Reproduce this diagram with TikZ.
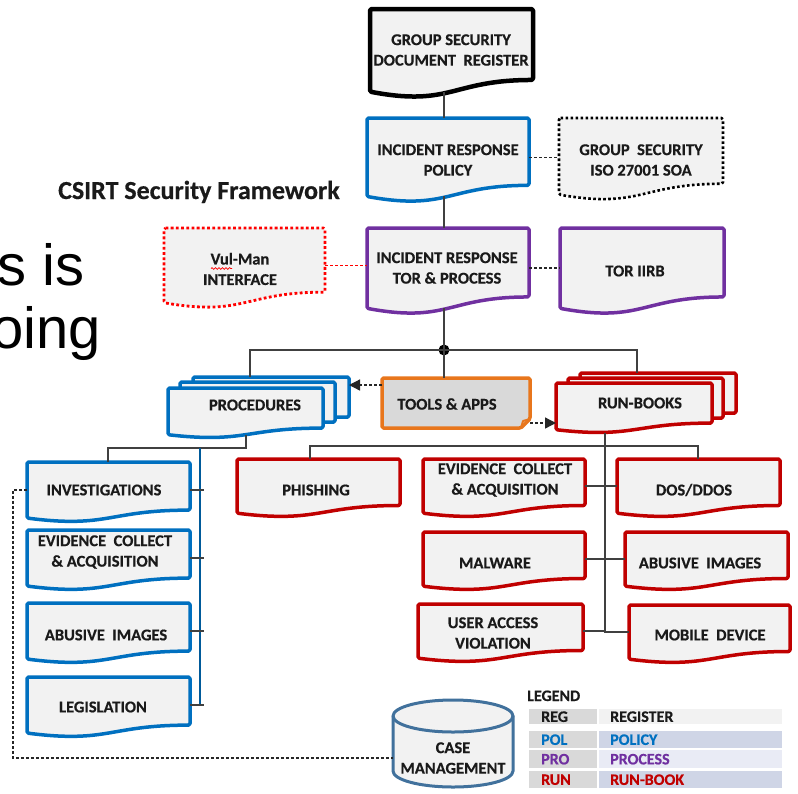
\documentclass[tikz,border=0pt]{standalone}
\usepackage{fontspec}
\setmainfont{Carlito}[BoldFeatures={FakeBold=0.5}]
\newfontfamily\arialfont{Liberation Sans}
\usetikzlibrary{arrows.meta,calc,decorations.pathmorphing}
\definecolor{cblue}{HTML}{0070C0}
\definecolor{cpurple}{HTML}{7030A0}
\definecolor{cred}{HTML}{C00000}
\definecolor{cvred}{HTML}{FF0000}
\definecolor{corange}{HTML}{E8761C}
\definecolor{cfill}{HTML}{F2F2F2}
\definecolor{cgray}{HTML}{D9D9D9}
\definecolor{cline}{HTML}{404040}
\definecolor{ctext}{HTML}{1A1A1A}
\definecolor{cyl}{HTML}{41719C}
\definecolor{lgblue}{HTML}{CFD5E6}
\definecolor{lgpale}{HTML}{E9EBF5}
\newcommand{\docbox}[6]{%
  \path[#1] (#3,#4) -- ({#3+#5},#4) -- ({#3+#5},{#4+0.802*#6}) .. controls ({#3+0.5*#5},{#4+0.802*#6}) and ({#3+0.5*#5},{#4+1.108*#6}) .. (#3,{#4+0.934*#6}) -- cycle;
  \node[boxanchor, minimum width={#5*1pt}, minimum height={0.933*#6*1pt}] (#2) at ({#3+0.5*#5},{#4+0.4665*#6}) {};}
\newcommand{\docnode}[9]{\docbox{#1}{#2}{#3}{#4}{#5}{#6}\node[doctext] (#2-label) at (#7,#8) {#9};}
\newcommand{\lgfont}{\bfseries\fontsize{16}{16}\selectfont}
\begin{document}
\begin{tikzpicture}[x=1pt,y=-1pt,
  docbase/.style={fill=cfill, line width=3.5pt, rounded corners=1.5pt, line join=round},
  regdoc/.style={docbase, draw=black, line width=4.5pt},
  poldoc/.style={docbase, draw=cblue},
  prodoc/.style={docbase, draw=cpurple},
  rundoc/.style={docbase, draw=cred},
  isodoc/.style={docbase, draw=black, line width=2.6pt, dash pattern=on 2.6pt off 2.4pt},
  vuldoc/.style={docbase, draw=cvred, line width=2.8pt, dash pattern=on 2.8pt off 2.4pt},
  boxanchor/.style={rectangle, draw=none, inner sep=0pt, outer sep=0pt},
  doctext/.style={font=\bfseries\fontsize{16.5}{20.5}\selectfont, text=ctext, align=center, inner sep=0pt},
  conn/.style={draw=cline, line width=1.8pt},
  tick/.style={draw=cline, line width=1.5pt},
  blueline/.style={draw=cblue!80!black, line width=1.2pt},
  dashconn/.style={draw=black!85, line width=1.3pt, dash pattern=on 3pt off 2pt},
  reddash/.style={draw=cvred, line width=1.3pt, dash pattern=on 3pt off 2pt},
  dasharrow/.style={dashconn, -{Triangle[length=11pt,width=11pt]}},
  dotnode/.style={circle, fill=black, inner sep=0pt, minimum size=11pt},
  lgA/.style={anchor=north west, fill=cgray, minimum height=#1, text width=62pt, inner xsep=3pt, inner ysep=0pt, align=left, font=\lgfont},
  lgB/.style={anchor=north west, minimum height=#1, text width=177pt, inner xsep=3pt, inner ysep=0pt, align=left, font=\lgfont}
]
\useasboundingbox (0,0) rectangle (798,793);
\fill[white] (0,0) rectangle (798,793);

% left big slide text and title
\node[font=\arialfont\fontsize{58}{60}\selectfont, anchor=base west, inner sep=0pt] (big1) at (-3,285) {s is};
\node[font=\arialfont\fontsize{58}{60}\selectfont, anchor=base west, inner sep=0pt] (big2) at (-9,348) {oing};
\node[font=\bfseries\fontsize{26}{30}\selectfont, text=ctext, anchor=base west, inner sep=0pt] (title) at (58,199) {CSIRT Security Framework};

% top chain
\docnode{regdoc}{reg}{370}{9}{163}{88.5}{451}{50}{GROUP SECURITY\\DOCUMENT\ \ REGISTER}
\docnode{poldoc}{pol}{367}{118}{162}{84}{448}{160}{INCIDENT RESPONSE\\POLICY}
\docnode{isodoc}{iso}{559}{118}{164}{82}{641}{160}{GROUP\ \ SECURITY\\ISO 27001 SOA}
\docnode{prodoc}{torp}{367}{228}{162}{86}{447}{268}{INCIDENT RESPONSE\\TOR \& PROCESS}
\docnode{vuldoc}{vul}{164}{228}{161}{80}{240}{269}{Vul-Man\\INTERFACE}
\docnode{prodoc}{tiirb}{560}{228}{164}{86}{635}{271}{TOR IIRB}
\draw[cvred, line width=0.7pt, decorate, decoration={snake, amplitude=0.9pt, segment length=3.5pt}] (211,268.5) -- (232,268.5);

% stacks
\docbox{poldoc}{proc3}{193}{377}{156}{50}
\docbox{poldoc}{proc2}{180}{382}{155}{50}
\docnode{poldoc}{proc}{168}{388}{155}{50}{255}{405}{PROCEDURES}
\docbox{rundoc}{rb3}{580}{373}{156}{50}
\docbox{rundoc}{rb2}{568}{378}{155}{50}
\docnode{rundoc}{rb}{556}{383}{156}{50}{640}{403}{RUN-BOOKS}

% tools
\path[fill=cgray, draw=corange, line width=3.5pt, rounded corners=1.5pt, line join=round] (382,378) -- (530,378) -- (530,419) -- (521,428) -- (382,428) -- cycle;
\draw[corange, line width=2pt, line join=round] (521,428) -- (523,421) -- (530,419);
\node[boxanchor, minimum width=148pt, minimum height=50pt] (tools) at (456,403) {};
\node[doctext] (tools-label) at (447,404) {TOOLS \& APPS};

% left procedure boxes
\docnode{poldoc}{inv}{27}{462}{163}{60}{104}{490}{INVESTIGATIONS}
\docnode{poldoc}{pevid}{27}{530}{163}{60}{105}{552}{EVIDENCE\ \ COLLECT\\\& ACQUISITION}
\docnode{poldoc}{pabu}{27}{603}{163}{60}{106}{635}{ABUSIVE\ \ IMAGES}
\docnode{poldoc}{leg}{27}{677}{163}{60}{103}{707}{LEGISLATION}

% run-book boxes
\docnode{rundoc}{phish}{237}{459}{163}{58}{316}{490}{PHISHING}
\docnode{rundoc}{revid}{423}{459}{162}{58}{505}{480}{EVIDENCE\ \ COLLECT\\\& ACQUISITION}
\docnode{rundoc}{dos}{617}{459}{163}{58}{694}{490}{DOS/DDOS}
\docnode{rundoc}{mal}{423}{532}{162}{58}{495}{563}{MALWARE}
\docnode{rundoc}{rabu}{625}{532}{163}{58}{700}{563}{ABUSIVE\ \ IMAGES}
\docnode{rundoc}{user}{418}{604}{165}{58}{493}{633}{USER ACCESS\\VIOLATION}
\docnode{rundoc}{mob}{629}{605}{161}{58}{710}{635}{MOBILE\ \ DEVICE}

% case management cylinder
\filldraw[fill=cfill, draw=cyl, line width=3pt] (393,716) -- (393,771) arc[start angle=180,end angle=0,x radius=60,y radius=16] -- (513,716) arc[start angle=0,end angle=-180,x radius=60,y radius=16] -- cycle;
\draw[cyl, line width=3pt] (513,716) arc[start angle=0,end angle=180,x radius=60,y radius=16];
\node[boxanchor, minimum width=120pt, minimum height=87pt] (case) at (453,743.5) {};
\node[doctext] (case-label) at (453,758) {CASE\\MANAGEMENT};

% connectors
\node[dotnode] (dot) at (444,350) {};
\draw[conn] (dot |- reg.south) -- (dot |- pol.north);
\draw[conn] (dot |- pol.south) -- (dot |- torp.north);
\draw[conn] (dot |- torp.south) -- (dot.center);
\draw[dashconn] (pol.east) -- (pol.east -| iso.west);
\draw[dashconn] (torp.east) -- (torp.east -| tiirb.west);
\draw[reddash] (vul.east) -- (vul.east -| torp.west);
\coordinate (procin) at (250,377);
\draw[conn] (dot.center) -| (procin);
\draw[conn] (dot.center) -- (dot.center |- tools.north);
\coordinate (rbin) at (637,373);
\draw[conn] (dot.center) -| (rbin);
\coordinate (procarr) at (349,385);
\draw[dasharrow] (tools.west |- procarr) -- (procarr);
\coordinate (rbarr) at (556,423);
\draw[dasharrow] (tools.east |- rbarr) -- (rbarr);

\coordinate (procout) at (246,435);
\coordinate (invin) at (108,462);
\draw[conn] (procout) -- (246,448) -| (invin);
\coordinate (bltop) at (200,448);
\draw[blueline] (bltop) -- (bltop |- leg.east);
\foreach \n in {inv,pevid,pabu,leg} \draw[tick] (\n.east) -- ++(14,0);
\coordinate (casein) at (393,758);
\draw[dashconn] (inv.west) -- ++(-14,0) |- (casein);

\coordinate (rbout) at (605,433);
\draw[conn] (rbout) |- (mob.west);
\draw[conn] (revid.east) -- (dos.west);
\draw[conn] (mal.east) -- (rabu.west);
\draw[conn] (user.east) -- (user.east -| rbout);
\coordinate (phin) at (310,459);
\coordinate (dosin) at (698,459);
\draw[conn] (phin) -- ++(0,-13) -| (dosin);

% legend
\node[font=\lgfont, text=ctext, anchor=base west, inner sep=0pt] (legend) at (527,701) {LEGEND};
\node[lgA=15pt, text=ctext] (l1a) at (529,709) {\hspace*{9pt}REG};
\node[lgB=15pt, fill=cfill, text=ctext] (l1b) at (599,709) {\hspace*{8pt}REGISTER};
\node[lgA=17pt, text=cblue] (l2a) at (529,731) {\hspace*{9pt}POL};
\node[lgB=17pt, fill=lgblue, text=cblue] (l2b) at (599,731) {\hspace*{8pt}POLICY};
\node[lgA=18pt, text=cpurple] (l3a) at (529,750) {\hspace*{9pt}PRO};
\node[lgB=18pt, fill=lgpale, text=cpurple] (l3b) at (599,750) {\hspace*{8pt}PROCESS};
\node[lgA=17pt, text=cred] (l4a) at (529,771) {\hspace*{9pt}RUN};
\node[lgB=17pt, fill=lgblue, text=cred] (l4b) at (599,771) {\hspace*{8pt}RUN-BOOK};
\end{tikzpicture}
\end{document}
